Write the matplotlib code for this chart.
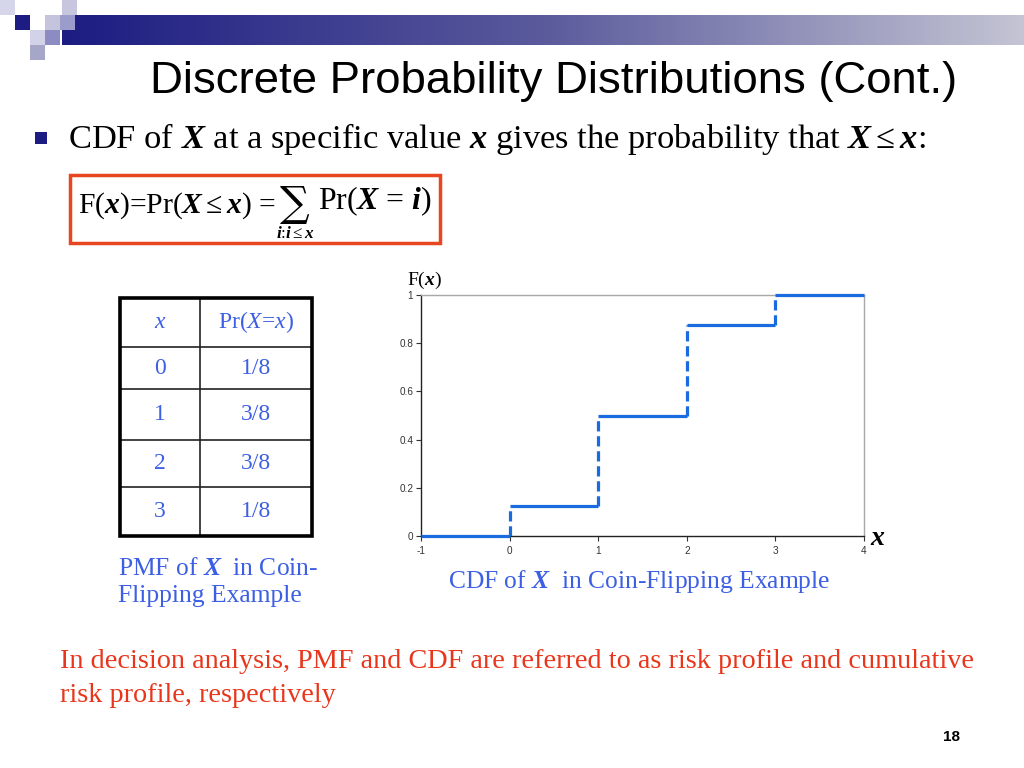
import matplotlib
import numpy as np

matplotlib.use("Agg")
import matplotlib.pyplot as plt  # noqa: E402
from matplotlib.colors import LinearSegmentedColormap  # noqa: E402
from matplotlib.patches import Rectangle  # noqa: E402

# data: PMF table and CDF step values for the coin-flipping example
x_vals = [0, 1, 2, 3]
pmf_labels = ["1/8", "3/8", "3/8", "1/8"]
step_edges = [-1, 0, 1, 2, 3, 4]
cdf_vals = [0.0, 0.125, 0.5, 0.875, 1.0]
y_ticks = [0, 0.2, 0.4, 0.6, 0.8, 1]
y_tick_labels = ["0", "0.2", "0.4", "0.6", "0.8", "1"]

BLUE_TXT = "#3d5fe3"
RED_TXT = "#e8361c"
LINE_BLUE = "#1a6be0"
NAVY = "#1c1c82"

plt.rcParams["mathtext.fontset"] = "custom"
plt.rcParams["mathtext.rm"] = "Liberation Serif"
plt.rcParams["mathtext.it"] = "Liberation Serif:italic"
plt.rcParams["mathtext.bf"] = "Liberation Serif:bold"
plt.rcParams["mathtext.bfit"] = "Liberation Serif:italic:bold"
plt.rcParams["mathtext.fallback"] = "stix"

fig = plt.figure(figsize=(10.24, 7.68), dpi=100)
bg = fig.add_axes([0, 0, 1, 1])
bg.set_xlim(0, 1024)
bg.set_ylim(768, 0)
bg.axis("off")
renderer = fig.canvas.get_renderer()


def fit_text(x, y, s, width, size0=20, **kw):
    """Place text, then rescale its font so that it spans `width` pixels."""
    t = bg.text(x, y, s, fontsize=size0, **kw)
    w = t.get_window_extent(renderer).width
    t.set_fontsize(size0 * width / w)
    return t.get_fontsize()


# header decoration: gradient bar and small squares
grad = LinearSegmentedColormap.from_list("hdr", [NAVY, "#5a5a9c", "#c4c4d4"])
bg.imshow(np.linspace(0, 1, 256)[None, :], cmap=grad, aspect="auto",
          extent=(62, 1024, 45, 15), zorder=1)
squares = [(0, 0, "#d6d6ea"), (62, 0, "#c6c6de"), (15, 15, NAVY),
           (45, 15, "#c4c4dc"), (60, 15, "#9c9ccc"), (30, 30, "#d2d2e8"),
           (45, 30, "#8c8cc2"), (30, 45, "#a6a6c8")]
for sx, sy, c in squares:
    bg.add_patch(Rectangle((sx, sy), 15, 15, color=c, lw=0, zorder=2))

# title
fit_text(150, 93, "Discrete Probability Distributions (Cont.)", 805,
         family="Liberation Sans", color="black")

# bullet line
bg.add_patch(Rectangle((35, 132), 12, 12, color=NAVY, lw=0))
fit_text(68, 148, r"CDF of $\mathbfit{X}$ at a specific value $\mathbfit{x}$ gives "
         r"the probability that $\mathbfit{X} \leq \mathbfit{x}$:", 857,
         family="Liberation Serif", color="black")

# formula box
bg.add_patch(Rectangle((70, 175), 370, 68, fill=False, ec="#e8461e", lw=2.5))
fit_text(78, 213, r"F($\mathbfit{x}$)=Pr($\mathbfit{X} \leq \mathbfit{x}$) = ",
         199, family="Liberation Serif", color="black")
bg.text(280, 216, "\u2211", fontsize=30, family="DejaVu Serif", color="black")
fit_text(318, 209, r"Pr($\mathbfit{X}$ = $\mathbfit{i}$)", 114,
         family="Liberation Serif", color="black")
fit_text(276, 238, r"$\mathbfit{i}$:$\mathbfit{i}\leq\mathbfit{x}$", 38,
         family="Liberation Serif", color="black")

# PMF table
tl, tr, tc = 120, 312, 200
row_lines = [298, 347, 389, 440, 487, 536]
for yy in row_lines[1:-1]:
    bg.plot([tl, tr], [yy, yy], color="#222222", lw=1.2)
bg.plot([tc, tc], [row_lines[0], row_lines[-1]], color="#222222", lw=1.2)
bg.add_patch(Rectangle((tl, row_lines[0]), tr - tl, row_lines[-1] - row_lines[0],
                       fill=False, ec="black", lw=2.6, zorder=3))
row_mid = [(a + b) / 2 for a, b in zip(row_lines[:-1], row_lines[1:])]
tkw = dict(family="Liberation Serif", color=BLUE_TXT, fontsize=17,
           ha="center", va="center")
bg.text(160, row_mid[0], r"$x$", **tkw)
bg.text(256, row_mid[0], r"Pr($X$=$x$)", **tkw)
for i, (xv, lab) in enumerate(zip(x_vals, pmf_labels)):
    bg.text(160, row_mid[i + 1], str(xv), **tkw)
    bg.text(256, row_mid[i + 1], lab, **tkw)

# captions
cs = fit_text(118, 602, "Flipping Example", 184, family="Liberation Serif",
              color=BLUE_TXT)
bg.text(118, 575, r"PMF of $\mathbfit{X}$  in Coin-", fontsize=cs,
        family="Liberation Serif", color=BLUE_TXT)
bg.text(448, 588, r"CDF of $\mathbfit{X}$  in Coin-Flipping Example", fontsize=cs,
        family="Liberation Serif", color=BLUE_TXT)

# bottom remark
rs = fit_text(60, 668, "In decision analysis, PMF and CDF are referred to as risk "
              "profile and cumulative", 915, family="Liberation Serif", color=RED_TXT)
bg.text(60, 702, "risk profile, respectively", fontsize=rs,
        family="Liberation Serif", color=RED_TXT)

# page number
bg.text(951, 741, "18", fontsize=11, fontweight="bold", family="Liberation Sans",
        ha="center", color="black")

# CDF step chart
ax = fig.add_axes([421 / 1024, 1 - 536 / 768, 443 / 1024, 241 / 768])
ax.set_xlim(-1, 4)
ax.set_ylim(0, 1)
ax.hlines(cdf_vals, step_edges[:-1], step_edges[1:], color=LINE_BLUE, lw=2.3,
          clip_on=False, zorder=3)
ax.vlines(step_edges[1:-1], cdf_vals[:-1], cdf_vals[1:], color=LINE_BLUE, lw=2.3,
          linestyles=(0, (3.2, 1.5)), zorder=3)
ax.set_xticks(step_edges)
ax.set_xticklabels([str(v) for v in step_edges])
ax.set_yticks(y_ticks)
ax.set_yticklabels(y_tick_labels)
ax.tick_params(labelsize=7.2, labelcolor="#333333", color="#333333", length=3.5,
               width=0.8, direction="out")
ax.tick_params(axis="x", pad=4)
ax.tick_params(axis="y", pad=2)
for side in ("left", "bottom"):
    ax.spines[side].set_color("#222222")
    ax.spines[side].set_linewidth(1.0)
for side in ("top", "right"):
    ax.spines[side].set_color("#a8a8a8")
    ax.spines[side].set_linewidth(1.0)
for lab in ax.get_xticklabels() + ax.get_yticklabels():
    lab.set_family("Liberation Sans")

bg.text(407, 285, r"F($\mathbfit{x}$)", fontsize=14, family="Liberation Serif",
        color="black")
bg.text(870, 545, r"$\mathbfit{x}$", fontsize=20, family="Liberation Serif",
        color="black")

fig.savefig("out.png", dpi=100)
